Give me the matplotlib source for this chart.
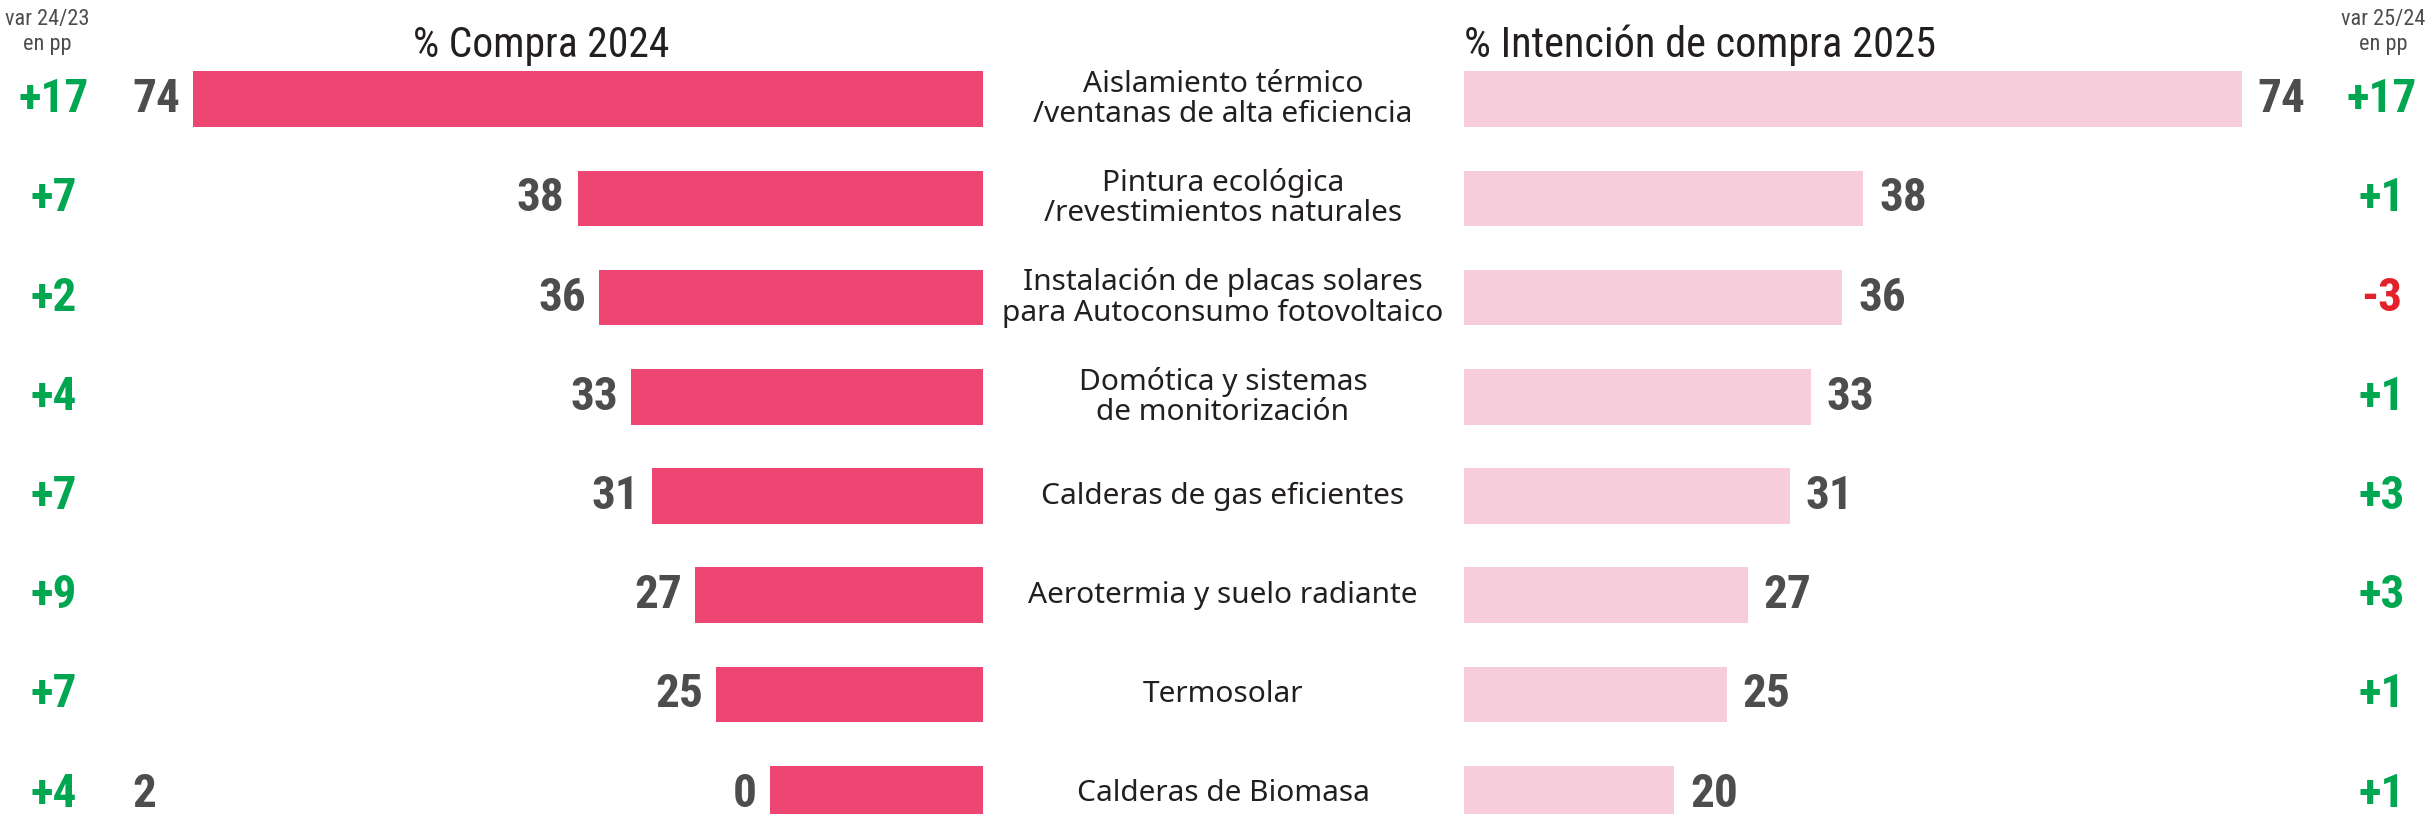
import matplotlib
matplotlib.use("Agg")
import matplotlib.pyplot as plt
from matplotlib import font_manager as fm
from matplotlib.transforms import blended_transform_factory

# ---------------- DATA ----------------
categories = [
    "Aislamiento térmico\n/ventanas de alta eficiencia",
    "Pintura ecológica\n/revestimientos naturales",
    "Instalación de placas solares\npara Autoconsumo fotovoltaico",
    "Domótica y sistemas\nde monitorización",
    "Calderas de gas eficientes",
    "Aerotermia y suelo radiante",
    "Termosolar",
    "Calderas de Biomasa",
]
compra_2024 = [74, 38, 36, 33, 31, 27, 25, 20]
intencion_2025 = [74, 38, 36, 33, 31, 27, 25, 20]
var_24_23 = [17, 7, 2, 4, 7, 9, 7, 4]
var_25_24 = [17, 1, -3, 1, 3, 3, 1, 1]

# ---------------- STYLE ----------------
PINK = "#EE4672"
LIGHT_PINK = "#F7CDDB"
GREEN = "#00A650"
RED = "#E4202A"
NUM_GRAY = "#4D4D4F"
TXT = "#231F20"


def pick(*names):
    for n in names:
        try:
            fm.findfont(fm.FontProperties(family=n), fallback_to_default=False)
            return n
        except ValueError:
            pass
    return "DejaVu Sans"


narrow = pick("Liberation Sans Narrow", "Roboto Condensed", "DejaVu Sans")
label_font = pick("Noto Sans", "Lato", "DejaVu Sans")

NUM_SIZE = 34

W, H = 2431, 814
fig = plt.figure(figsize=(W / 100, H / 100), dpi=100)

row_px = 99.2
y_top = -1
y_bot = -1 + H / row_px

# left axis (2024), right edge at x=983px, 10.67 px/unit
lmax = 80
l_scale = 10.67
ax_l = fig.add_axes([(983 - lmax * l_scale) / W, 0, lmax * l_scale / W, 1])
# right axis (2025), left edge at x=1464px, 10.51 px/unit
rmax = 80
r_scale = 10.51
ax_r = fig.add_axes([1464 / W, 0, rmax * r_scale / W, 1])

for ax in (ax_l, ax_r):
    ax.set_ylim(y_bot, y_top)
    ax.axis("off")
ax_l.set_xlim(lmax, 0)
ax_r.set_xlim(0, rmax)

ys = list(range(len(categories)))
ax_l.barh(ys, compra_2024, height=0.56, color=PINK)
ax_r.barh(ys, intencion_2025, height=0.56, color=LIGHT_PINK)

num_kw = dict(fontsize=NUM_SIZE, fontweight="bold", color=NUM_GRAY, family=narrow,
              va="center", textcoords="offset pixels", annotation_clip=False)

first_lbl = None
for i, v in enumerate(compra_2024):
    s = str(v)
    if i == len(compra_2024) - 1:
        # the reference draws the last label broken apart
        t = ax_l.annotate(s[1:], (v, i), xytext=(-13, 0), ha="right", **num_kw)
        fig.canvas.draw()
        bb = first_lbl.get_window_extent()
        tr = blended_transform_factory(fig.transFigure, ax_l.transData)
        fig.text(bb.x0 / W, i, s[0], transform=tr, ha="left", va="center",
                 fontsize=NUM_SIZE, fontweight="bold", color=NUM_GRAY, family=narrow)
    else:
        t = ax_l.annotate(s, (v, i), xytext=(-13, 0), ha="right", **num_kw)
        if first_lbl is None:
            first_lbl = t

for i, v in enumerate(intencion_2025):
    ax_r.annotate(str(v), (v, i), xytext=(16, 0), ha="left", **num_kw)

# variation columns
tr_l = blended_transform_factory(fig.transFigure, ax_l.transData)
tr_r = blended_transform_factory(fig.transFigure, ax_r.transData)
for i, d in enumerate(var_24_23):
    fig.text(54 / W, i, f"{d:+d}", transform=tr_l, ha="center", va="center",
             fontsize=NUM_SIZE, fontweight="bold", family=narrow,
             color=GREEN if d >= 0 else RED)
for i, d in enumerate(var_25_24):
    fig.text(2382 / W, i, f"{d:+d}", transform=tr_r, ha="center", va="center",
             fontsize=NUM_SIZE, fontweight="bold", family=narrow,
             color=GREEN if d >= 0 else RED)

# category labels
for i, c in enumerate(categories):
    fig.text(1223 / W, i, c, transform=tr_l, ha="center", va="center",
             fontsize=21.5, color=TXT, family=label_font, fontweight="medium",
             linespacing=1.05)

# headers
fig.text(541 / W, 1 - 45 / H, "% Compra 2024", ha="center", va="center",
         fontsize=30, color=TXT, family=narrow)
fig.text(1464 / W, 1 - 45 / H, "% Intención de compra 2025", ha="left",
         va="center", fontsize=30.5, color=TXT, family=narrow)
fig.text(47 / W, 1 - 32 / H, "var 24/23\nen pp", ha="center", va="center",
         fontsize=16, color=NUM_GRAY, family=narrow, linespacing=1.25)
fig.text(2383 / W, 1 - 32 / H, "var 25/24\nen pp", ha="center", va="center",
         fontsize=16, color=NUM_GRAY, family=narrow, linespacing=1.25)

fig.savefig("out.png", dpi=100, facecolor="white")
